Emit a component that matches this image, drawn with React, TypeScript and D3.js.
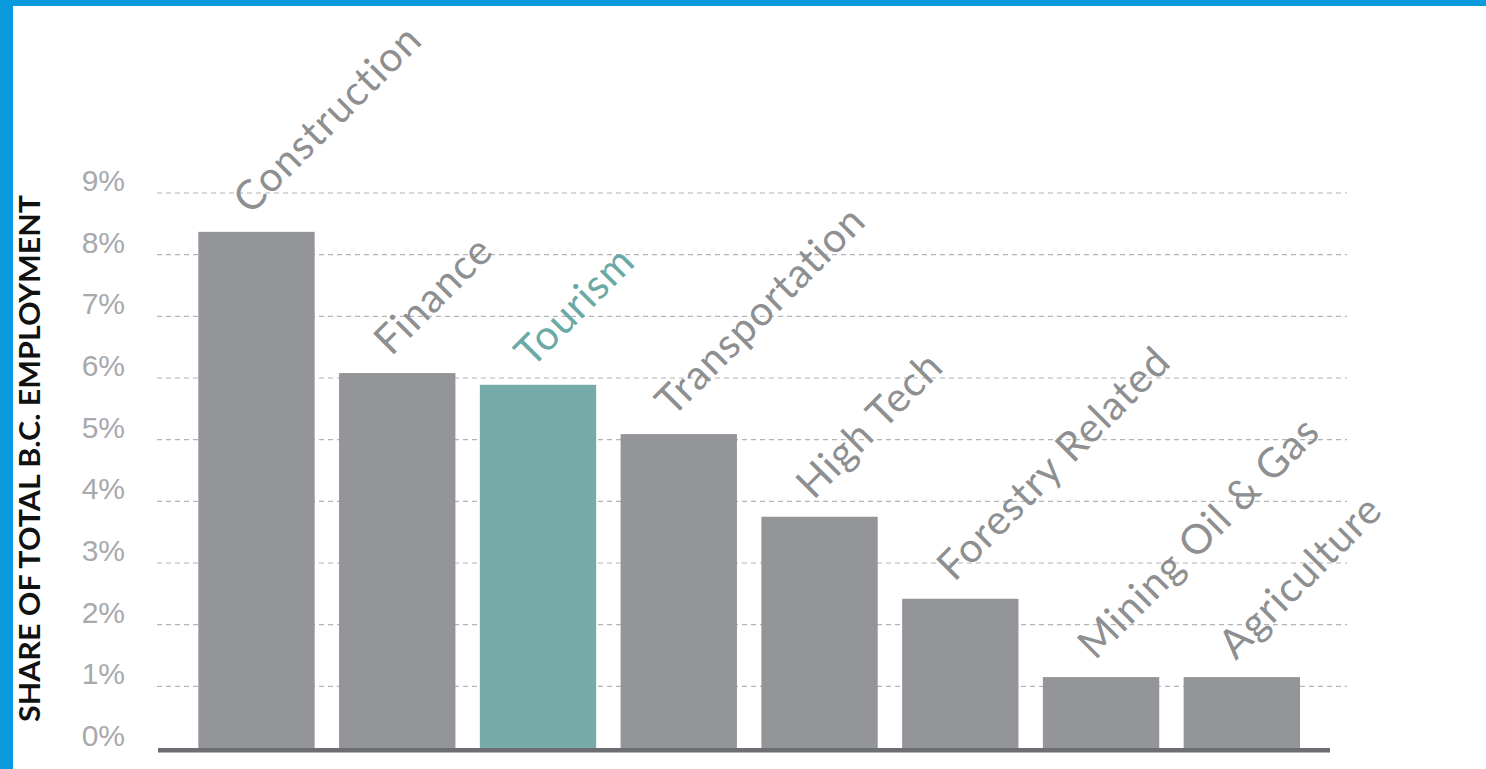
import React from "react";
import * as d3 from "d3";

const categories = ["Construction", "Finance", "Tourism", "Transportation", "High Tech", "Forestry Related", "Mining Oil & Gas", "Agriculture"];
const values = [8.37, 6.08, 5.89, 5.09, 3.75, 2.42, 1.15, 1.15];
const highlighted = ["Tourism"];
const yTicks = [0, 1, 2, 3, 4, 5, 6, 7, 8, 9];
const yTitle = "SHARE OF TOTAL B.C. EMPLOYMENT";

const W = 1486;
const H = 769;
const BLUE = "#0b9ade";
const GRAY_BAR = "#939598";
const TEAL_BAR = "#76aba9";
const GRAY_TEXT = "#8e8f91";
const TEAL_TEXT = "#6aa9a5";

export default function App() {
  const x = d3
    .scaleBand<string>()
    .domain(categories)
    .range([186.1, 1312.2])
    .paddingInner(0.1734)
    .paddingOuter(0.0867);
  const y = d3.scaleLinear().domain([0, 9]).range([748, 193]);

  return (
    <svg width={W} height={H} style={{ position: "absolute", left: 0, top: 0, background: "#fff" }}>
      <rect x={0} y={0} width={W} height={H} fill="#fff" />
      {yTicks.filter((t) => t > 0).map((t) => (
        <line key={"g" + t} x1={157} x2={1347} y1={y(t)} y2={y(t)} stroke="#b4b4b6" strokeWidth={1.2} strokeDasharray="5,4" />
      ))}
      {yTicks.map((t) => (
        <text key={"t" + t} x={125} y={y(t) - 2} textAnchor="end" fontFamily="Liberation Sans, Arial, sans-serif" fontSize={30} fill="#a7a9ac">
          {t + "%"}
        </text>
      ))}
      {categories.map((c, i) => (
        <rect key={"b" + c} x={x(c)} y={y(values[i])} width={x.bandwidth()} height={y(0) - y(values[i])} fill={highlighted.includes(c) ? TEAL_BAR : GRAY_BAR} />
      ))}
      <rect x={158} y={y(0)} width={1172} height={4.5} fill="#6d6e71" />
      {categories.map((c, i) => {
        const cx = (x(c) as number) + x.bandwidth() / 2 - 6;
        const cy = y(values[i]) - 16;
        return (
          <text key={"l" + c} transform={`translate(${cx},${cy}) rotate(-45)`} fontFamily="Lato, 'Open Sans', sans-serif" fontSize={41} letterSpacing={1} fill={highlighted.includes(c) ? TEAL_TEXT : GRAY_TEXT}>
            {c}
          </text>
        );
      })}
      <text transform={`translate(40,458.5) rotate(-90)`} textAnchor="middle" fontFamily="Lato, sans-serif" fontWeight={700} fontSize={28} fill="#111" textLength={527} lengthAdjust="spacingAndGlyphs">
        {yTitle}
      </text>
      <rect x={0} y={0} width={W} height={6} fill={BLUE} />
      <rect x={0} y={0} width={13} height={H} fill={BLUE} />
    </svg>
  );
}
